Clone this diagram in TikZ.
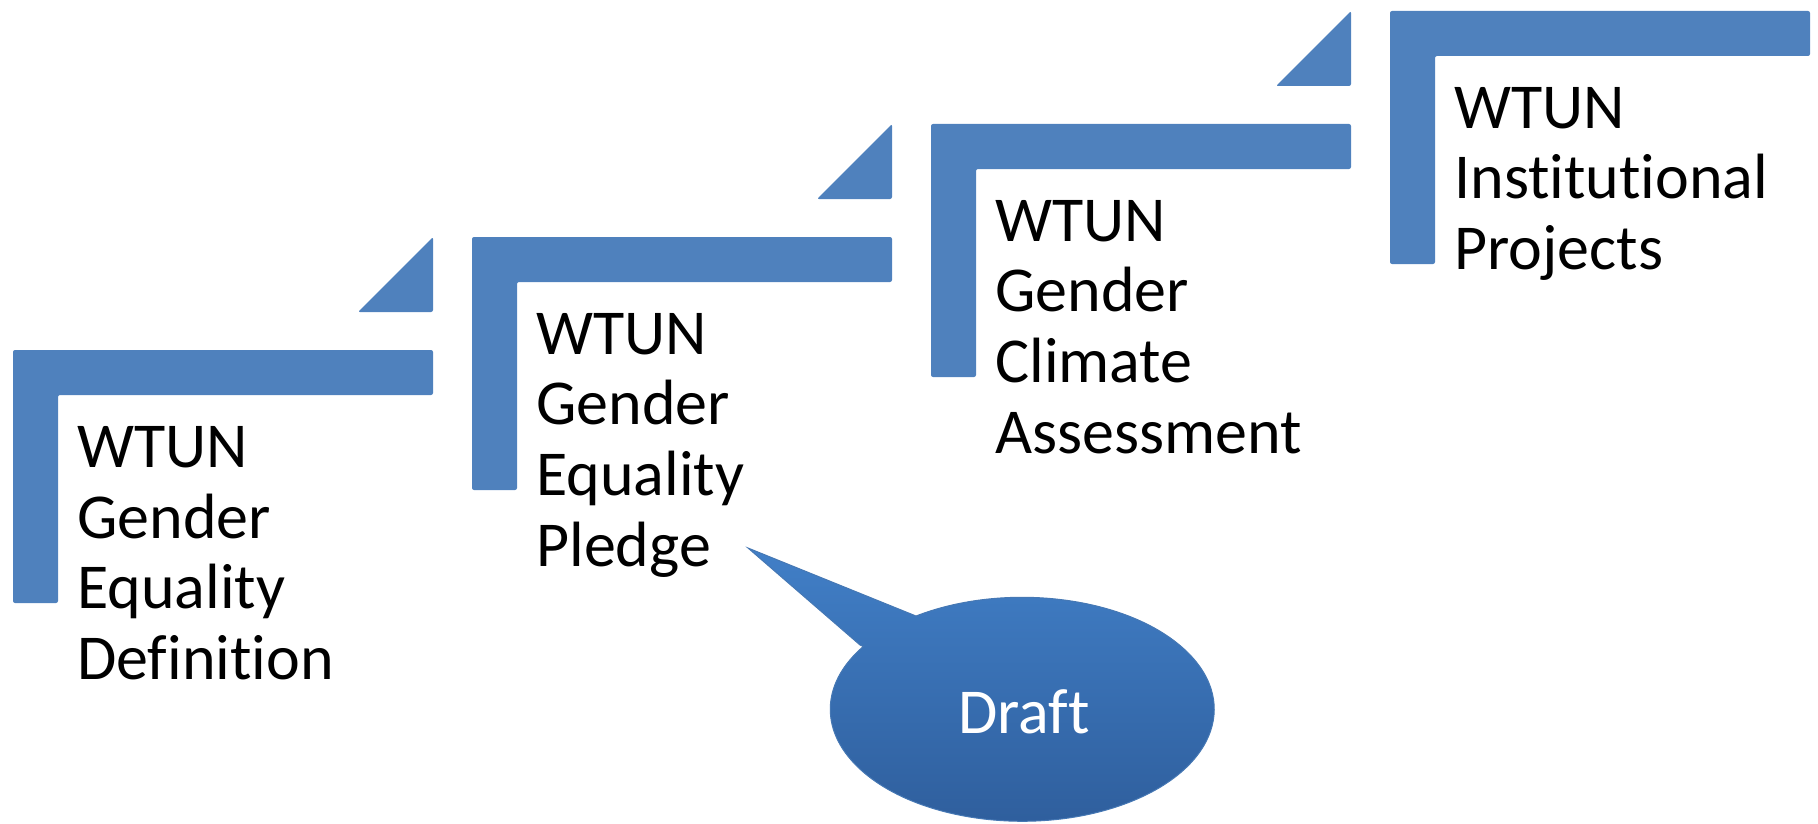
\documentclass[tikz,border=0pt]{standalone}
\usepackage{fontspec}
\setmainfont[Ligatures=NoCommon]{Carlito}
\definecolor{stepblue}{RGB}{79,129,189}
\definecolor{drafttop}{RGB}{65,127,199}
\definecolor{draftbot}{RGB}{46,93,155}
\definecolor{draftedge}{RGB}{70,120,180}
\tikzset{
  stepL/.pic={\fill[stepblue, rounded corners=1.5pt] (0,0) -- (420,0) -- (420,45) -- (45,45) -- (45,253) -- (0,253) -- cycle;},
  steptri/.pic={\fill[stepblue, rounded corners=1.5pt] (345,-38) -- (420,-38) -- (420,-113) -- cycle;},
  steptext/.style={anchor=north west, inner sep=0pt, align=left, text=black, font=\fontsize{48pt}{53pt}\selectfont},
}
\begin{document}
\begin{tikzpicture}[x=0.75pt,y=-0.75pt]
\useasboundingbox (0,0) rectangle (1818,824);
% steps
\pic at (13,350) {stepL};
\pic at (13,350) {steptri};
\pic at (472,237) {stepL};
\pic at (472,237) {steptri};
\pic at (931,124) {stepL};
\pic at (931,124) {steptri};
\pic at (1390,11) {stepL};
% texts
\node[steptext] (t1) at (77,426) {WTUN\\Gender\\Equality\\Definition};
\node[steptext] (t2) at (536,313) {WTUN\\Gender\\Equality\\Pledge};
\node[steptext] (t3) at (995,200) {WTUN\\Gender\\Climate\\Assessment};
\node[steptext] (t4) at (1454,87) {WTUN\\Institutional\\Projects};
% callout
\coordinate (tip) at (748,548);
\shade[top color=drafttop, bottom color=draftbot, draw=draftedge, line width=0.75pt]
  (860,645) -- (tip) -- (916,616) arc[start angle=236.4, end angle=574.1, x radius=192, y radius=112] -- cycle;
\node[anchor=base, inner sep=0pt, text=white, font=\fontsize{48pt}{53pt}\selectfont] (draft) at (1024,733) {Draft};
\end{tikzpicture}
\end{document}
